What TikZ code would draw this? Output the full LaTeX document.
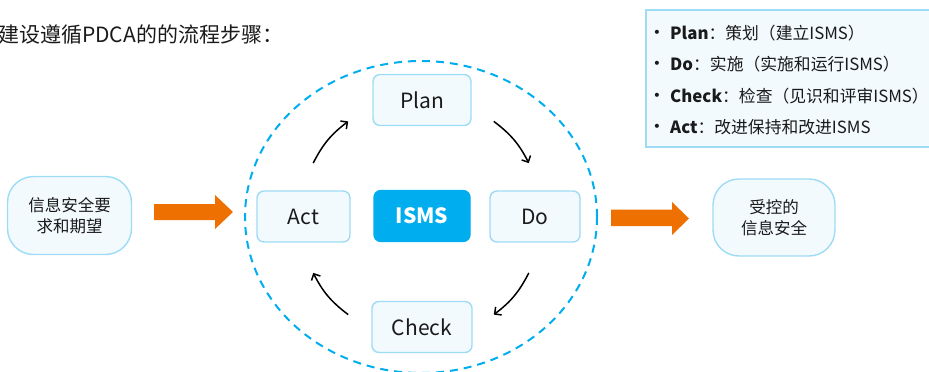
\documentclass[tikz,border=0pt]{standalone}
\usepackage{fontspec}
\setmainfont{Noto Sans CJK SC}
\newfontfamily\bulletfont{DejaVu Sans}
\usetikzlibrary{arrows.meta}
\definecolor{boxline}{HTML}{9EDCF6}
\definecolor{boxfill}{HTML}{F2FAFE}
\definecolor{ringblue}{HTML}{00AEEF}
\definecolor{ismsfill}{HTML}{00AEEF}
\definecolor{orangearr}{HTML}{EE7000}
\definecolor{txt}{HTML}{1A1A1A}
\tikzset{
  stepbox/.style={draw=boxline, fill=boxfill, line width=1.4pt, rounded corners=7pt,
    minimum width=96pt, minimum height=51pt, inner sep=0pt, font=\fontsize{21}{24}\selectfont, text=txt},
  sidebox/.style={draw=boxline, fill=boxfill, line width=1.4pt, rounded corners=26pt,
    minimum width=124pt, minimum height=78pt, inner sep=0pt, align=center,
    font=\fontsize{16.5}{21}\selectfont, text=txt},
  cyc/.style={line width=1.5pt, black, -{Straight Barb[length=5pt,width=10pt,line width=1.5pt]}},
  orarrow/.style={fill=orangearr, draw=none},
  legtxt/.style={anchor=west, inner sep=0pt, font=\fontsize{16.8}{19}\selectfont, text=txt},
  legbullet/.style={anchor=center, inner sep=0pt, font=\bulletfont\fontsize{14}{16}\selectfont, text=txt},
}
\begin{document}
\begin{tikzpicture}[x=1pt,y=-1pt]
\useasboundingbox (0,0) rectangle (929,372);
% title
\node[anchor=west, inner sep=0pt, font=\fontsize{21}{24}\selectfont, text=txt] (title) at (-2,35) {建设遵循PDCA的的流程步骤：};
% legend
\draw[draw=boxline, fill=boxfill, line width=1.4pt] (646,10) rectangle (940,147);
\node[legbullet] (b1) at (657,34) {•};
\node[legtxt] (l1) at (670,33) {\textbf{Plan}：策划（建立ISMS）};
\node[legbullet] (b2) at (657,65) {•};
\node[legtxt] (l2) at (670,64) {\textbf{Do}：实施（实施和运行ISMS）};
\node[legbullet] (b3) at (657,97) {•};
\node[legtxt] (l3) at (670,96) {\textbf{Check}：检查（见识和评审ISMS）};
\node[legbullet] (b4) at (657,128) {•};
\node[legtxt] (l4) at (670,127) {\textbf{Act}：改进保持和改进ISMS};
% ring
\draw[ringblue, line width=2pt, dash pattern=on 8pt off 6pt] (421,217) ellipse [x radius=176, y radius=156];
% step boxes
\node[stepbox, minimum width=98pt] (plan) at (422,100) {Plan};
\node[stepbox, minimum width=93pt] (act) at (303.5,216.5) {Act};
\node[stepbox, fill=ismsfill, draw=ismsfill, text=white, font=\fontsize{21}{24}\selectfont\bfseries] (isms) at (422,216) {ISMS};
\node[stepbox, minimum width=90pt] (do) at (535,216.5) {Do};
\node[stepbox, minimum width=100pt] (check) at (422,327) {Check};
% cycle arrows
\coordinate (a1) at (313.2,163.1);
\coordinate (a2) at (348.2,121.4);
\coordinate (a3) at (493.8,121.4);
\coordinate (a4) at (528.8,163.1);
\coordinate (a5) at (528.8,272.9);
\coordinate (a6) at (493.8,314.6);
\coordinate (a7) at (348.2,314.6);
\coordinate (a8) at (313.2,272.9);
\draw[cyc] (a1) to[bend left=13] (a2);
\draw[cyc] (a3) to[bend left=13] (a4);
\draw[cyc] (a5) to[bend left=13] (a6);
\draw[cyc] (a7) to[bend left=13] (a8);
% side nodes
\node[sidebox] (req) at (69.5,215.5) {信息安全要\\求和期望};
\node[sidebox, minimum width=122pt, minimum height=77pt] (out) at (774,217.5) {受控的\\信息安全};
% orange arrows
\fill[orarrow] (154,204) -- (215,204) -- (215,195) -- (233,212) -- (215,229) -- (215,220) -- (154,220) -- cycle;
\fill[orarrow] (611,209.5) -- (672,209.5) -- (672,202) -- (689,218.5) -- (672,235) -- (672,226) -- (611,226) -- cycle;
\end{tikzpicture}
\end{document}
